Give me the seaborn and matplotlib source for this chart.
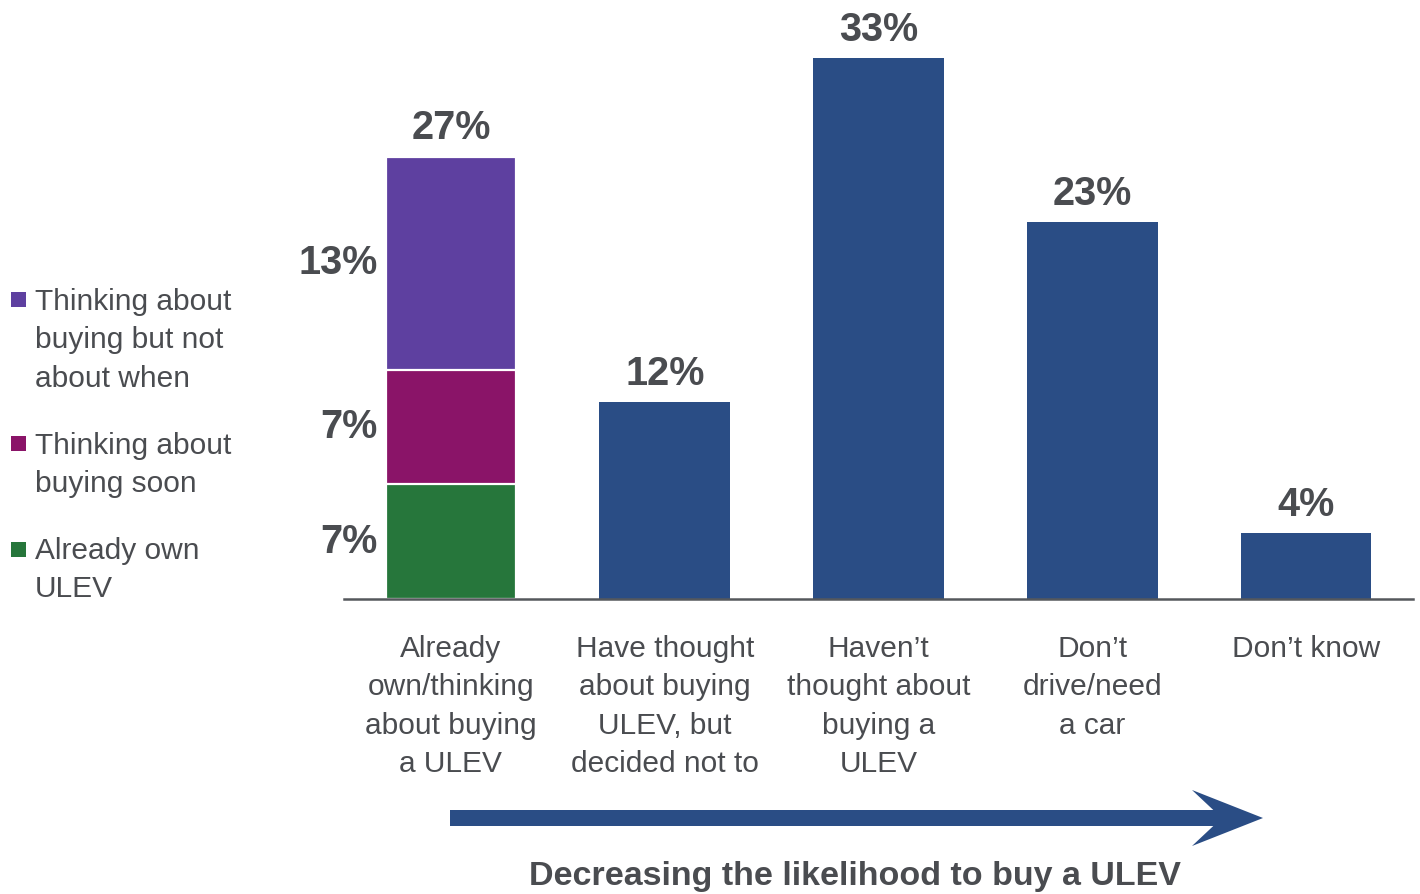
import numpy as np
import pandas as pd
import matplotlib
matplotlib.use("Agg")
import matplotlib.pyplot as plt
from matplotlib.patches import FancyArrow, Rectangle
import seaborn as sns

# ---- data ----
categories = [
    "Already\nown/thinking\nabout buying\na ULEV",
    "Have thought\nabout buying\nULEV, but\ndecided not to",
    "Haven\u2019t\nthought about\nbuying a\nULEV",
    "Don\u2019t\ndrive/need\na car",
    "Don\u2019t know",
]
totals = [27, 12, 33, 23, 4]

# breakdown of the first category, bottom to top
stack_names = ["Already own\nULEV", "Thinking about\nbuying soon", "Thinking about\nbuying but not\nabout when"]
stack_values = [7, 7, 13]

arrow_caption = "Decreasing the likelihood to buy a ULEV"

# ---- style ----
BLUE = "#2A4D85"
STACK_COLORS = ["#26763B", "#8A1468", "#5E40A0"]
TEXT = "#4A4C50"
AXIS = "#55585C"
FONT = "Liberation Sans"
BAR_W = 0.61

sns.set_theme(style="white")
plt.rcParams["font.family"] = [FONT, "DejaVu Sans"]

W, H = 1420, 894
fig = plt.figure(figsize=(14.2, 8.94), dpi=100)
ax = fig.add_axes([344 / W, 1 - 599 / H, (1413 - 344) / W, 590 / H])

# single-value bars for the remaining categories
main_df = pd.DataFrame({"category": categories[1:], "share": totals[1:]})
sns.barplot(data=main_df, x="category", y="share", order=categories,
            color=BLUE, saturation=1, width=BAR_W, errorbar=None,
            linewidth=0, ax=ax)

# stacked first bar: layered cumulative bars, tallest first
cum = np.cumsum(stack_values)
for val, col in zip(cum[::-1], STACK_COLORS[::-1]):
    seg_df = pd.DataFrame({"category": [categories[0]], "share": [val]})
    sns.barplot(data=seg_df, x="category", y="share", order=categories,
                color=col, saturation=1, width=BAR_W, errorbar=None,
                edgecolor="white", linewidth=1.6, ax=ax)

ax.set_xlim(-0.5, len(categories) - 0.5)
ax.set_ylim(0, 36)
ax.set_xlabel("")
ax.set_ylabel("")
ax.set_yticks([])
for s in ["top", "right", "left"]:
    ax.spines[s].set_visible(False)
ax.spines["bottom"].set_color(AXIS)
ax.spines["bottom"].set_linewidth(1.8)
ax.spines["bottom"].set_zorder(5)
ax.tick_params(axis="x", length=0, pad=26, colors=TEXT)
for lbl in ax.get_xticklabels():
    lbl.set_fontsize(21.5)
    lbl.set_color(TEXT)
    lbl.set_linespacing(1.47)
    lbl.set_multialignment("center")
    lbl.set_verticalalignment("top")

# total labels above bars
for i, v in enumerate(totals):
    ax.annotate(f"{v}%", xy=(i, v), xytext=(0, 12.5), textcoords="offset points",
                ha="center", va="baseline", fontsize=28.5, fontweight="bold",
                color=TEXT, annotation_clip=False)

# segment labels to the left of the stacked bar
bottoms = np.concatenate([[0], cum[:-1]])
for b, v in zip(bottoms, stack_values):
    ax.annotate(f"{v}%", xy=(-BAR_W / 2, b + v / 2), xytext=(-6, 0),
                textcoords="offset points", ha="right", va="center",
                fontsize=28.5, fontweight="bold", color=TEXT,
                annotation_clip=False)

# legend drawn as colour squares with wrapped text
legend_tops = [537, 432, 288]  # pixel rows of the first text line, bottom entry first
square_tops = [542, 436, 292]
for name, col, ty, sy in zip(stack_names, STACK_COLORS, legend_tops, square_tops):
    fig.add_artist(Rectangle((11 / W, 1 - (sy + 15) / H), 15 / W, 15 / H,
                             transform=fig.transFigure, facecolor=col,
                             edgecolor="none"))
    fig.text(35 / W, 1 - ty / H, name, ha="left", va="top", fontsize=21.5,
             color=TEXT, linespacing=1.47)

# direction arrow and caption
arrow = FancyArrow(4.50, 0.76, 8.13, 0.0, width=0.16, head_width=0.56,
                   head_length=0.71, overhang=0.3, length_includes_head=True,
                   transform=fig.dpi_scale_trans, facecolor=BLUE,
                   edgecolor="none")
fig.add_artist(arrow)
fig.text(855 / W, 1 - 876 / H, arrow_caption, ha="center", va="center",
         fontsize=24.5, fontweight="bold", color=TEXT)

fig.savefig("out.png", dpi=100)
